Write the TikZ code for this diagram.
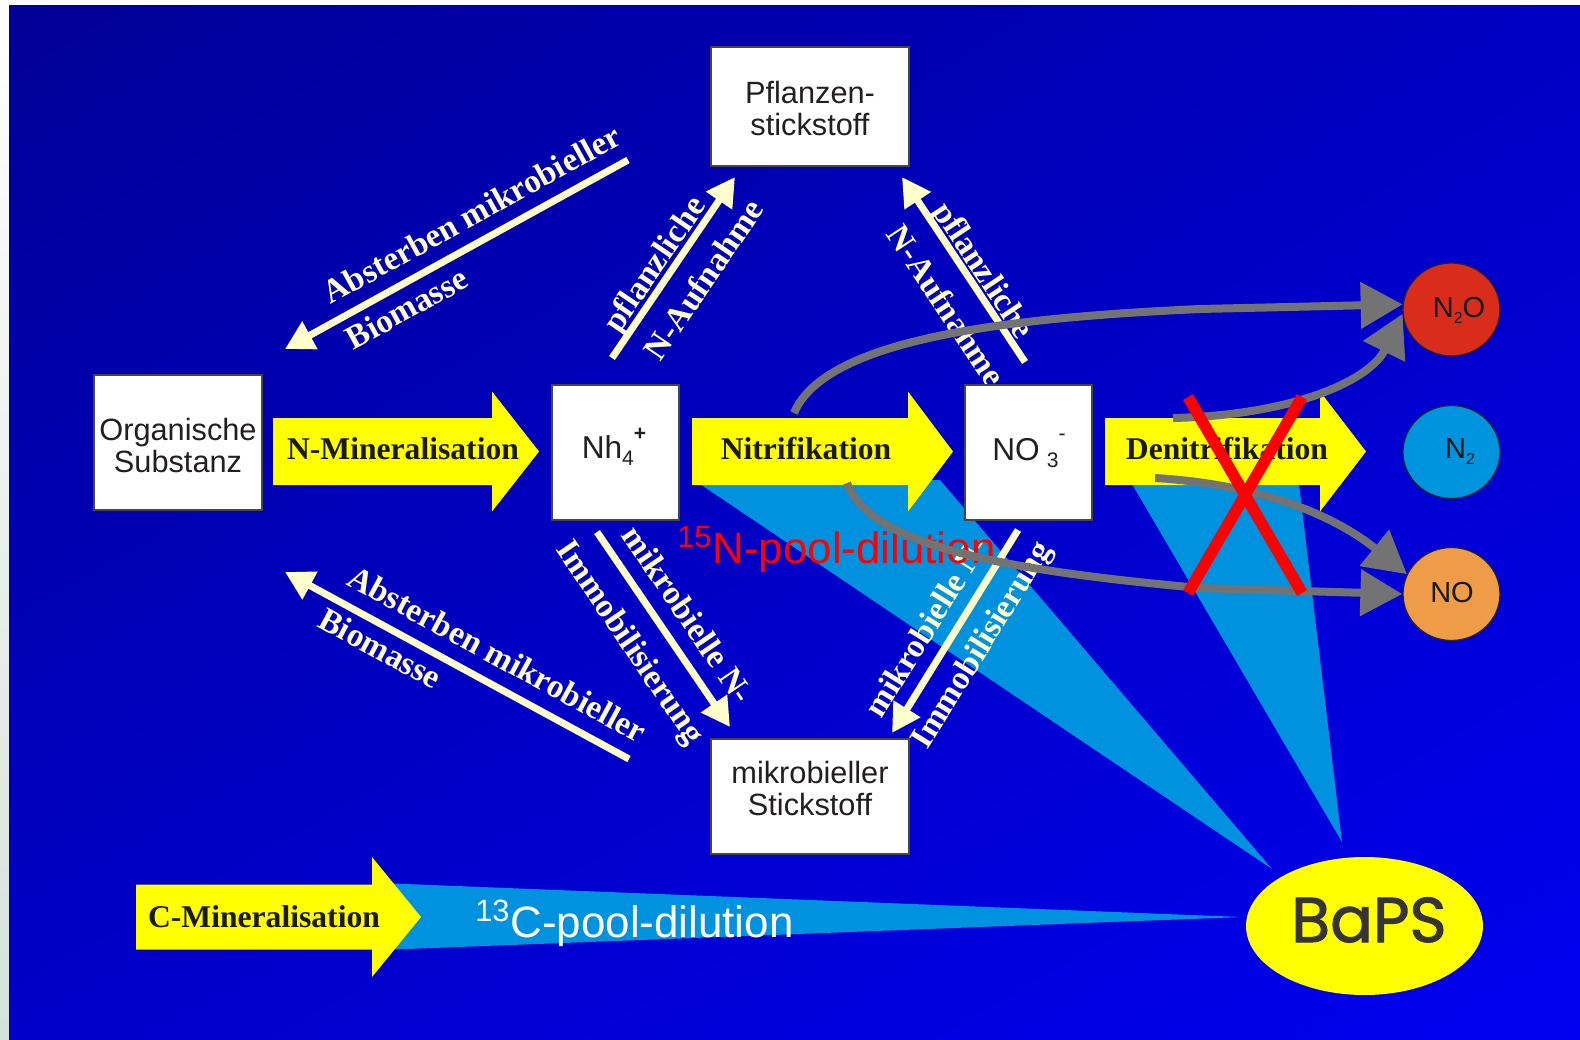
\documentclass[tikz,border=0pt]{standalone}
\usepackage{fontspec}
\setmainfont{Liberation Sans}
\newfontfamily\tnr{Liberation Serif}
\newfontfamily\bapsf{Poppins}[FakeBold=1.6]
\usetikzlibrary{arrows.meta,shapes.geometric,shadings}
\definecolor{bgUL}{RGB}{0,0,150}
\definecolor{bgUR}{RGB}{0,0,195}
\definecolor{bgLL}{RGB}{0,0,200}
\definecolor{bgLR}{RGB}{0,0,240}
\definecolor{stripb}{RGB}{212,226,216}
\definecolor{ayellow}{RGB}{255,255,0}
\definecolor{beam}{RGB}{0,146,222}
\definecolor{cream}{RGB}{255,255,204}
\definecolor{cgray}{RGB}{115,115,115}
\definecolor{boxtxt}{RGB}{35,31,32}
\definecolor{boxline}{RGB}{70,70,70}
\definecolor{n2ofill}{RGB}{217,44,27}
\definecolor{n2fill}{RGB}{0,148,222}
\definecolor{nofill}{RGB}{238,156,72}
\definecolor{bapstxt}{RGB}{55,52,53}
\definecolor{ytxt}{RGB}{26,26,26}
\newcommand{\yarrow}[6]{%
  \fill[ayellow] (#1,#4-#5) -- (#2,#4-#5) -- (#2,#4-#6) -- (#3,#4) -- (#2,#4+#6) -- (#2,#4+#5) -- (#1,#4+#5) -- cycle;}
\begin{document}
\begin{tikzpicture}[x=0.02cm,y=-0.02cm,
  wbox/.style={draw=boxline, line width=0.9pt, fill=white, inner sep=0pt},
  btext/.style={text=boxtxt, align=center, inner sep=0pt, font=\fontsize{17.5}{18.7}\selectfont},
  clabel/.style={text=cream, anchor=base, inner sep=0pt, font=\tnr\bfseries\fontsize{19}{20}\selectfont},
  ylabel/.style={text=ytxt, anchor=base, inner sep=0pt, font=\tnr\bfseries\fontsize{18}{20}\selectfont},
  carrow/.style={draw=cream, line width=0.14cm, -{Triangle[length=0.57cm,width=0.6cm]}},
  garrow/.style={draw=cgray, line width=0.16cm, -{Triangle[length=0.84cm,width=0.9cm]}},
  redx/.style={draw=red, line width=0.23cm},
  circ/.style={ellipse, draw=black!85, line width=0.7pt, minimum width=1.94cm, minimum height=1.86cm, inner sep=0pt},
  ctext/.style={text=black!90, anchor=base, inner sep=0pt, font=\fontsize{16.5}{18}\selectfont},
  dil/.style={anchor=base west, inner sep=0pt, font=\fontsize{25}{28}\selectfont}]
\useasboundingbox (0,0) rectangle (1580,1039);
% background
\fill[white] (0,0) rectangle (1580,1039);
\shade[top color=white,bottom color=stripb] (0,0) rectangle (9,1039);
\shade[upper left=bgUL,upper right=bgUR,lower left=bgLL,lower right=bgLR] (9,5) rectangle (1580,1039);
% beams
\fill[beam] (700,484) -- (940,480) -- (1272,869) -- cycle;
\fill[beam] (1132,484) -- (1299,484) -- (1342,842) -- cycle;
\fill[beam] (380,883) -- (1242,917) -- (380,950) -- cycle;
% cream arrows
\coordinate (a1s) at (628,160); \coordinate (a1e) at (285,349);
\coordinate (a2s) at (629,759); \coordinate (a2e) at (285,572);
\coordinate (a3s) at (612,358); \coordinate (a3e) at (735,177);
\coordinate (a4s) at (1025,362); \coordinate (a4e) at (902,177);
\coordinate (a5s) at (597,532); \coordinate (a5e) at (730,727);
\coordinate (a6s) at (1018,530); \coordinate (a6e) at (892,733);
\draw[carrow] (a1s) -- (a1e);
\draw[carrow] (a2s) -- (a2e);
\draw[carrow] (a3s) -- (a3e);
\draw[carrow] (a4s) -- (a4e);
\draw[carrow] (a5s) -- (a5e);
\draw[carrow] (a6s) -- (a6e);
\node[clabel, rotate=28.9] (l1a) at (477,224) {Absterben mikrobieller};
\node[clabel, rotate=28.9] (l1b) at (412,318) {Biomasse};
\node[clabel, rotate=-28.5] (l2a) at (492,664) {Absterben mikrobieller};
\node[clabel, rotate=-28.5] (l2b) at (375,658) {Biomasse};
\node[clabel, rotate=55.8] (l3a) at (663,270) {pflanzliche};
\node[clabel, rotate=55.8] (l3b) at (713,286) {N-Aufnahme};
\node[clabel, rotate=-56.4] (l4a) at (975,276) {pflanzliche};
\node[clabel, rotate=-56.4] (l4b) at (937,312) {N-Aufnahme};
\node[clabel, rotate=-55.7] (l5a) at (679,621) {mikrobielle N-};
\node[clabel, rotate=-55.7] (l5b) at (622,648) {Immobilisierung};
\node[clabel, rotate=58.2] (l6a) at (936,632) {mikrobielle N-};
\node[clabel, rotate=58.2] (l6b) at (990,650) {Immobilisierung};
% yellow arrows
\yarrow{273}{492}{539}{451.5}{33.5}{60}
\yarrow{692}{908}{953}{451.5}{33.5}{60}
\yarrow{1105}{1320}{1366}{451.5}{33.5}{60}
\yarrow{136}{372}{421}{917}{32.5}{60}
\node[ylabel] (nmin) at (403,459) {N-Mineralisation};
\node[ylabel] (nitr) at (806,459) {Nitrifikation};
\node[ylabel] (denitr) at (1227,459) {Denitrifikation};
\node[ylabel] (cmin) at (264,927) {C-Mineralisation};
% boxes
\node[wbox, minimum width=3.36cm, minimum height=2.7cm] (org) at (178,442.5) {};
\node[btext] (orgT) at (178,445.5) {Organische\\Substanz};
\node[wbox, minimum width=2.54cm, minimum height=2.7cm] (nh4) at (615.5,452.5) {};
\node[text=boxtxt, anchor=base, inner sep=0pt, font=\fontsize{18}{20}\selectfont] (nh4T) at (614,458)
  {Nh\raisebox{-4.5pt}{\fontsize{12}{12}\selectfont 4}\raisebox{10pt}{\fontsize{12}{12}\selectfont\bfseries +}};
\node[wbox, minimum width=2.54cm, minimum height=2.7cm] (no3) at (1028.5,452.5) {};
\node[text=boxtxt, anchor=base, inner sep=0pt, font=\fontsize{18}{20}\selectfont] (no3T) at (1029,460)
  {NO\hspace{4pt}\raisebox{-4.5pt}{\fontsize{12}{12}\selectfont 3}\raisebox{11pt}{\fontsize{12}{12}\selectfont -}};
\node[wbox, minimum width=3.96cm, minimum height=2.38cm] (pfl) at (810,106.5) {};
\node[btext] (pflT) at (810,108.5) {Pflanzen-\\stickstoff};
\node[wbox, minimum width=3.96cm, minimum height=2.3cm] (mik) at (810,796.5) {};
\node[btext] (mikT) at (810,788.5) {mikrobieller\\Stickstoff};
% dilution labels
\node[dil, text=red] (ndil) at (677,563) {\textsuperscript{15}N-pool-dilution};
\node[dil, text=white] (cdil) at (475,937) {\textsuperscript{13}C-pool-dilution};
% circles
\node[circ, fill=n2ofill] (n2o) at (1451.5,309.5) {};
\node[circ, fill=n2fill] (n2) at (1451.5,452) {};
\node[circ, fill=nofill] (no) at (1451.5,594) {};
\node[ctext] (n2oT) at (1459,317) {N\raisebox{-3.5pt}{\fontsize{9}{9}\selectfont 2}O};
\node[ctext] (n2T) at (1460,458) {N\raisebox{-3.5pt}{\fontsize{9}{9}\selectfont 2}};
\node[ctext] (noT) at (1452,602) {NO};
% gray connectors
\coordinate (g1s) at (794,413);
\coordinate (g2s) at (1173,418);
\coordinate (g3s) at (847,483);
\coordinate (g4s) at (1155,478);
\draw[garrow] (g1s) .. controls (825,340) and (1000,318) .. (1200,309) -- (n2o.174);
\draw[garrow] (g2s) .. controls (1295,415) and (1370,380) .. (n2o.185);
\draw[garrow] (g3s) .. controls (870,545) and (1000,570) .. (1200,588) -- (no.west);
\draw[garrow] (g4s) .. controls (1270,485) and (1340,520) .. (no.156);
% red cross
\coordinate (x1a) at (1188,397); \coordinate (x1b) at (1302,593);
\coordinate (x2a) at (1302,397); \coordinate (x2b) at (1188,593);
\draw[redx] (x1a) -- (x1b);
\draw[redx] (x2a) -- (x2b);
% BaPS
\node[ellipse, fill=ayellow, minimum width=4.74cm, minimum height=2.76cm, inner sep=0pt] (baps) at (1364.5,926) {};
\node[text=bapstxt, anchor=base, inner sep=0pt, font=\bapsf\fontsize{36}{40}\selectfont] (bapsT) at (1369,942) {BaPS};
\end{tikzpicture}
\end{document}
